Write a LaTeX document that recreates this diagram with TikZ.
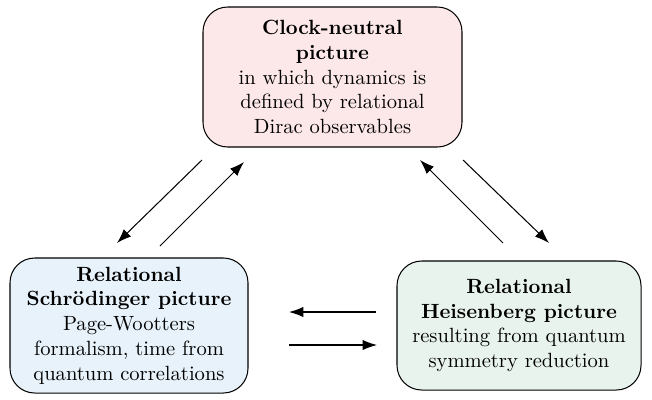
\documentclass[tikz,border=0pt]{standalone}
\usetikzlibrary{arrows.meta}
\definecolor{pinkfill}{RGB}{253,232,233}
\definecolor{bluefill}{RGB}{231,242,250}
\definecolor{greenfill}{RGB}{232,243,237}
\newcommand{\pxu}{0.486pt}
\tikzset{
  boxnode/.style={draw=black, line width=0.5pt, rounded corners=12pt, align=center, inner sep=0pt, font=\normalsize},
  conn/.style={-{Latex[length=7pt,width=5pt]}, line width=0.5pt}
}
\begin{document}
\begin{tikzpicture}[x=\pxu,y=-\pxu]
\useasboundingbox (0,0) rectangle (652,399);
\node[boxnode, fill=pinkfill, minimum width=259*\pxu, minimum height=140*\pxu] (top) at (332.5,77)
  {\textbf{Clock-neutral}\\ \textbf{picture}\\ in which dynamics is\\ defined by relational\\ Dirac observables};
\node[boxnode, fill=bluefill, minimum width=238*\pxu, minimum height=135*\pxu] (left) at (129,325.5)
  {\textbf{Relational}\\ \textbf{Schrödinger picture}\\ Page-Wootters\\ formalism, time from\\ quantum correlations};
\node[boxnode, fill=greenfill, minimum width=244*\pxu, minimum height=129*\pxu] (right) at (519,325.5)
  {\textbf{Relational}\\ \textbf{Heisenberg picture}\\ resulting from quantum\\ symmetry reduction};
\coordinate (a1) at (202,160); \coordinate (a2) at (117,243);
\coordinate (b1) at (160,246); \coordinate (b2) at (244,162);
\coordinate (c1) at (503,243); \coordinate (c2) at (420,160);
\coordinate (d1) at (463,160); \coordinate (d2) at (549,243);
\coordinate (e1) at (376,312); \coordinate (e2) at (289,312);
\coordinate (f1) at (289,345); \coordinate (f2) at (377,345);
\draw[conn] (a1) -- (a2);
\draw[conn] (b1) -- (b2);
\draw[conn] (c1) -- (c2);
\draw[conn] (d1) -- (d2);
\draw[conn] (e1) -- (e2);
\draw[conn] (f1) -- (f2);
\end{tikzpicture}
\end{document}
